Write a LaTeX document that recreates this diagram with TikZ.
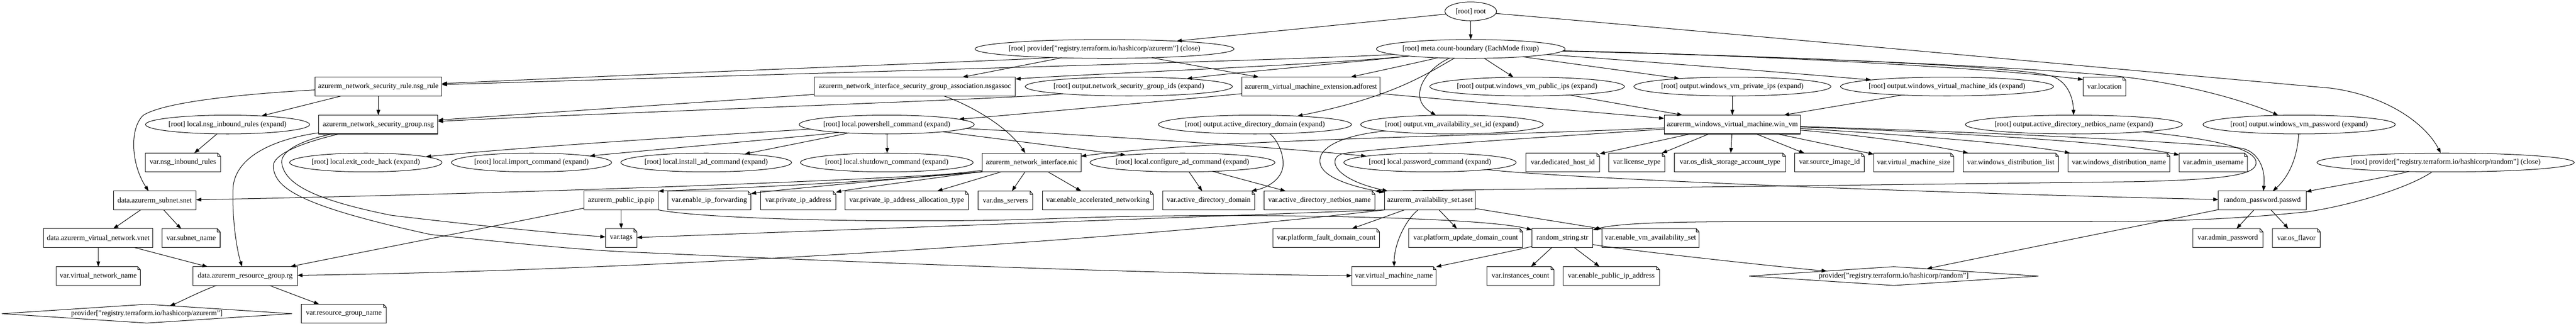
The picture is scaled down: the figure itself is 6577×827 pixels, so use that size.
\documentclass[tikz,border=0pt]{standalone}
\usepackage{fontspec}
\setmainfont{Liberation Serif}
\usetikzlibrary{shapes.geometric,arrows.meta,calc}
\newcommand\gedge[4]{\draw[edg] (#1) .. controls ($(#3)!0.1!(#4)$) and ($(#3)!0.9!(#4)$) .. (#2);}
\begin{document}
\begin{tikzpicture}[x=0.75pt,y=-0.75pt,
  font=\fontsize{14pt}{17pt}\selectfont,
  base/.style={inner sep=0pt,outer sep=0pt,minimum height=36pt,line width=1pt},
  wid/.style={minimum width=#1*0.75pt},
  gbox/.style={base,rectangle,draw},
  ell/.style={base,ellipse,draw,inner xsep=-8pt},
  notebox/.style={base,rectangle},
  dia/.style={base,diamond,draw,shape aspect=15},
  edg/.style={line width=1pt,-{Triangle[length=10pt,width=7pt]}}]
\useasboundingbox (0,0) rectangle (6577,827);
\fill[white] (0,0) rectangle (6577,827);

% row 0-1
\node[ell,wid=132] (root) at (3755,29) {[root] root};
\node[ell,wid=658] (pazc) at (2820,125) {[root] provider["registry.terraform.io/hashicorp/azurerm"] (close)};
\node[ell,wid=482] (meta) at (3755,125) {[root] meta.count-boundary (EachMode fixup)};
% row 2
\node[gbox,wid=324] (nsgrule) at (966,221) {azurerm\_network\_security\_rule.nsg\_rule};
\node[gbox,wid=513] (nsgassoc) at (2336,221) {azurerm\_network\_interface\_security\_group\_association.nsgassoc};
\node[ell,wid=529] (onsgids) at (2882,221) {[root] output.network\_security\_group\_ids (expand)};
\node[gbox,wid=353] (adforest) at (3347,221) {azurerm\_virtual\_machine\_extension.adforest};
\node[ell,wid=497] (opubips) at (3899,221) {[root] output.windows\_vm\_public\_ips (expand)};
\node[ell,wid=503] (oprivips) at (4423,221) {[root] output.windows\_vm\_private\_ips (expand)};
\node[ell,wid=544] (ovmids) at (4971,221) {[root] output.windows\_virtual\_machine\_ids (expand)};
\node[notebox,wid=109] (vlocation) at (5373,221) {var.location};
% row 3
\node[ell,wid=419] (lnsg) at (581,318) {[root] local.nsg\_inbound\_rules (expand)};
\node[gbox,wid=304] (nsg) at (966,318) {azurerm\_network\_security\_group.nsg};
\node[ell,wid=447] (lps) at (2264,318) {[root] local.powershell\_command (expand)};
\node[ell,wid=493] (oaddomain) at (3204,318) {[root] output.active\_directory\_domain (expand)};
\node[ell,wid=466] (oaset) at (3707,318) {[root] output.vm\_availability\_set\_id (expand)};
\node[gbox,wid=348] (winvm) at (4423,318) {azurerm\_windows\_virtual\_machine.win\_vm};
\node[ell,wid=554] (onetbios) at (5295,318) {[root] output.active\_directory\_netbios\_name (expand)};
\node[ell,wid=491] (opwd) at (5870,318) {[root] output.windows\_vm\_password (expand)};
% row 4
\node[notebox,wid=192] (vnsg) at (467,415) {var.nsg\_inbound\_rules};
\node[ell,wid=389] (lexit) at (934,415) {[root] local.exit\_code\_hack (expand)};
\node[ell,wid=409] (limport) at (1357,415) {[root] local.import\_command (expand)};
\node[ell,wid=436] (linstall) at (1803,415) {[root] local.install\_ad\_command (expand)};
\node[ell,wid=441] (lshutdown) at (2264,415) {[root] local.shutdown\_command (expand)};
\node[gbox,wid=252] (nic) at (2634,415) {azurerm\_network\_interface.nic};
\node[ell,wid=472] (lconfig) at (3019,415) {[root] local.configure\_ad\_command (expand)};
\node[ell,wid=440] (lpwd) at (3651,415) {[root] local.password\_command (expand)};
\node[notebox,wid=188] (vdedicated) at (3990,415) {var.dedicated\_host\_id};
\node[notebox,wid=143] (vlicense) at (4179,415) {var.license\_type};
\node[notebox,wid=284] (vosdisk) at (4417,415) {var.os\_disk\_storage\_account\_type};
\node[notebox,wid=178] (vsrcimg) at (4671,415) {var.source\_image\_id};
\node[notebox,wid=204] (vvmsize) at (4886,415) {var.virtual\_machine\_size};
\node[notebox,wid=243] (vdistlist) at (5134,415) {var.windows\_distribution\_list};
\node[notebox,wid=260] (vdistname) at (5410,415) {var.windows\_distribution\_name};
\node[notebox,wid=174] (vadminuser) at (5651,415) {var.admin\_username};
\node[ell,wid=657] (prc) at (6244,415) {[root] provider["registry.terraform.io/hashicorp/random"] (close)};
% row 5
\node[gbox,wid=211] (snet) at (395,512) {data.azurerm\_subnet.snet};
\node[gbox,wid=190] (pip) at (1586,512) {azurerm\_public\_ip.pip};
\node[notebox,wid=212] (vipfwd) at (1811,512) {var.enable\_ip\_forwarding};
\node[notebox,wid=192] (vprivip) at (2038,512) {var.private\_ip\_address};
\node[notebox,wid=315] (vprivalloc) at (2315,512) {var.private\_ip\_address\_allocation\_type};
\node[notebox,wid=140] (vdns) at (2567,512) {var.dns\_servers};
\node[notebox,wid=283] (vaccel) at (2803,512) {var.enable\_accelerated\_networking};
\node[notebox,wid=235] (vaddomain) at (3086,512) {var.active\_directory\_domain};
\node[notebox,wid=283] (vnetbios) at (3369,512) {var.active\_directory\_netbios\_name};
\node[gbox,wid=232] (aset) at (3651,512) {azurerm\_availability\_set.aset};
\node[gbox,wid=224] (passwd) at (5776,512) {random\_password.passwd};
% row 6
\node[gbox,wid=279] (vnet) at (251,608) {data.azurerm\_virtual\_network.vnet};
\node[notebox,wid=148] (vsubnet) at (488,608) {var.subnet\_name};
\node[notebox,wid=80] (vtags) at (1586,608) {var.tags};
\node[notebox,wid=272] (vfault) at (3386,608) {var.platform\_fault\_domain\_count};
\node[notebox,wid=291] (vupdate) at (3742,608) {var.platform\_update\_domain\_count};
\node[gbox,wid=155] (str) at (3989,608) {random\_string.str};
\node[notebox,wid=248] (vavail) at (4214,608) {var.enable\_vm\_availability\_set};
\node[notebox,wid=179] (vadminpwd) at (5688,608) {var.admin\_password};
\node[notebox,wid=122] (vosflavor) at (5863,608) {var.os\_flavor};
% row 7
\node[notebox,wid=215] (vvnetname) at (251,705) {var.virtual\_network\_name};
\node[gbox,wid=266] (rg) at (626,705) {data.azurerm\_resource\_group.rg};
\node[notebox,wid=215] (vvmname) at (3559,705) {var.virtual\_machine\_name};
\node[notebox,wid=171] (vinst) at (3882,705) {var.instances\_count};
\node[notebox,wid=246] (vpubip) at (4114,705) {var.enable\_public\_ip\_address};
\node[dia,wid=739] (prand) at (4835,705) {provider["registry.terraform.io/hashicorp/random"]};
% row 8
\node[dia,wid=741] (paz) at (375,801) {provider["registry.terraform.io/hashicorp/azurerm"]};
\node[notebox,wid=217] (vrgname) at (878,801) {var.resource\_group\_name};

% note outlines
\foreach \nn in {vlocation,vnsg,vdedicated,vlicense,vosdisk,vsrcimg,vvmsize,vdistlist,vdistname,vadminuser,vipfwd,vprivip,vprivalloc,vdns,vaccel,vaddomain,vnetbios,vsubnet,vtags,vfault,vupdate,vavail,vadminpwd,vosflavor,vvnetname,vvmname,vinst,vpubip,vrgname}{
  \draw[line width=1pt] (\nn.north west) -- ($(\nn.north east)+(-7,0)$) -- ($(\nn.north east)+(0,8)$) -- (\nn.south east) -- (\nn.south west) -- cycle;
  \draw[line width=1pt] ($(\nn.north east)+(-7,0)$) -- ($(\nn.north east)+(-7,8)$) -- ($(\nn.north east)+(0,8)$);
}

% ---- edges ----
% root
\gedge{root}{meta}{3755,53}{3755,101}
\gedge{root}{pazc}{3689,37}{3007,104}
\draw[edg] (root) .. controls (4300,75) and (5500,185) .. (5950,225) .. controls (6100,245) and (6195,320) .. (prc);
% provider azurerm close
\draw[edg] (pazc) .. controls (2650,152) and (1800,182) .. (nsgrule);
\gedge{pazc}{nsgassoc}{2710,148}{2462,196}
\gedge{pazc}{adforest}{2943,148}{3214,197}
% meta
\draw[edg] (meta) .. controls (3400,150) and (2200,183) .. (nsgrule);
\draw[edg] (meta) .. controls (3400,165) and (2750,190) .. (nsgassoc);
\draw[edg] (meta) .. controls (3450,160) and (3150,185) .. (onsgids);
\gedge{meta}{adforest}{3665,150}{3451,196}
\gedge{meta}{opubips}{3791,150}{3864,197}
\gedge{meta}{oprivips}{3891,146}{4287,200}
\draw[edg] (meta) .. controls (4100,150) and (4500,180) .. (ovmids);
\draw[edg] (meta) .. controls (4400,138) and (5050,170) .. ($(vlocation.north west)+(0,6)$);
\draw[edg] (meta) .. controls (4400,140) and (5150,165) .. (5240,195) .. controls (5280,210) and (5293,250) .. (onetbios);
\draw[edg] (meta) .. controls (4400,140) and (5100,165) .. (5400,194) .. controls (5600,215) and (5750,265) .. (opwd);
\draw[edg] (meta) .. controls (3640,190) and (3555,248) .. (oaddomain);
\draw[edg] (meta) .. controls (3640,175) and (3590,250) .. (oaset);
% nsg rule
\gedge{nsgrule}{lnsg}{872,245}{676,294}
\gedge{nsgrule}{nsg}{966,245}{966,294}
\draw[edg] (nsgrule) .. controls (650,238) and (420,258) .. (365,295) .. controls (330,330) and (335,420) .. (snet);
% nsg
\draw[edg] (nsg) .. controls (700,355) and (600,400) .. (595,480) .. controls (592,560) and (605,640) .. (rg);
\draw[edg] (nsg) .. controls (760,360) and (712,390) .. (720,420) .. controls (730,470) and (800,510) .. (1000,550) .. controls (1250,580) and (1450,598) .. (vtags);
\draw[edg] (nsg) .. controls (770,365) and (690,395) .. (698,430) .. controls (706,480) and (760,525) .. (1100,599) .. controls (1350,625) and (1500,640) .. (1640,645) .. controls (2300,675) and (3000,700) .. (vvmname);
% nsgassoc
\gedge{nsgassoc}{nsg}{2080,242}{1118,306}
\draw[edg] (nsgassoc) .. controls (2470,265) and (2570,320) .. (nic);
% outputs
\draw[edg] (onsgids) .. controls (2600,252) and (1500,290) .. (nsg);
\draw[edg] (oaddomain) .. controls (3255,350) and (3277,385) .. (3276,420) .. controls (3275,455) and (3240,478) .. (vaddomain);
\draw[edg] (oaset) .. controls (3430,345) and (3365,375) .. (3370,415) .. controls (3375,455) and (3460,478) .. (aset);
\gedge{opubips}{winvm}{4012,244}{4287,292}
\gedge{oprivips}{winvm}{4423,245}{4423,294}
\gedge{ovmids}{winvm}{4852,244}{4563,292}
\draw[edg] (onetbios) .. controls (5600,350) and (5750,370) .. (5760,412) .. controls (5765,445) and (5700,458) .. (5450,464) .. controls (4800,472) and (3800,484) .. (vnetbios.north east);
\draw[edg] (opwd) .. controls (5866,400) and (5845,450) .. (passwd);
% adforest
\gedge{adforest}{lps}{3171,240}{2456,305}
\gedge{adforest}{winvm}{3524,240}{4249,302}
% powershell
\draw[edg] (lps) .. controls (1900,340) and (1400,370) .. (lexit);
\gedge{lps}{limport}{2166,339}{1505,397}
\gedge{lps}{linstall}{2163,341}{1906,392}
\gedge{lps}{lshutdown}{2265,342}{2265,391}
\gedge{lps}{lconfig}{2410,337}{2868,395}
\draw[edg] (lps) .. controls (2600,335) and (3200,370) .. (lpwd);
% other locals
\draw[edg] (lpwd) .. controls (3950,452) and (4800,490) .. (passwd);
\gedge{lconfig}{vaddomain}{3036,439}{3068,486}
\gedge{lconfig}{vnetbios}{3100,439}{3276,486}
\gedge{lnsg}{vnsg}{552,344}{496,391}
% win vm
\draw[edg] (winvm) .. controls (3950,350) and (3550,375) .. (3430,392) .. controls (3390,400) and (3395,455) .. (aset);
\draw[edg] (winvm) .. controls (3800,348) and (3100,355) .. (nic);
\gedge{winvm}{vdedicated}{4316,342}{4087,392}
\gedge{winvm}{vlicense}{4363,342}{4244,391}
\gedge{winvm}{vosdisk}{4422,342}{4419,391}
\gedge{winvm}{vsrcimg}{4484,342}{4606,391}
\gedge{winvm}{vvmsize}{4538,342}{4775,392}
\draw[edg] (winvm) .. controls (4750,345) and (4930,370) .. (vdistlist);
\draw[edg] (winvm) .. controls (4800,340) and (5150,365) .. (vdistname);
\draw[edg] (winvm) .. controls (4900,335) and (5400,360) .. (vadminuser);
\draw[edg] (winvm) .. controls (5000,335) and (5550,360) .. (5720,378) .. controls (5765,385) and (5785,430) .. (passwd);
% nic
\draw[edg] (nic.south west) .. controls (2200,462) and (1300,495) .. (snet);
\draw[edg] (nic.south west) .. controls (2200,467) and (1850,482) .. (pip.north east);
\gedge{nic}{vipfwd}{2508,439}{1917,490}
\gedge{nic}{vprivip}{2508,439}{2133,488}
\gedge{nic}{vprivalloc}{2556,439}{2399,486}
\gedge{nic}{vdns}{2617,439}{2585,486}
\gedge{nic}{vaccel}{2676,439}{2757,486}
% pip
\gedge{pip}{vtags}{1586,536}{1586,583}
\gedge{pip}{rg}{1491,532}{747,679}
\draw[edg] (pip.south east) .. controls (1800,560) and (2300,572) .. (2700,558) .. controls (3100,542) and (3780,552) .. (str);
% aset
\gedge{aset}{vfault}{3586,536}{3454,583}
\gedge{aset}{vupdate}{3674,536}{3719,583}
\draw[edg] (aset) .. controls (3590,560) and (3560,620) .. (vvmname);
\gedge{aset}{vavail}{3767,533}{4090,584}
\draw[edg] (aset.south west) -- (vtags);
\draw[edg] (aset.south west) .. controls (2900,610) and (1700,690) .. (rg);
% random string
\gedge{str}{prand}{4066,630}{4638,692}
\gedge{str}{vinst}{3962,632}{3909,681}
\gedge{str}{vpubip}{4019,632}{4084,681}
\gedge{str}{vvmname}{3911,631}{3667,681}
% random password
\gedge{passwd}{vadminpwd}{5755,536}{5711,583}
\gedge{passwd}{vosflavor}{5798,536}{5842,583}
\gedge{passwd}{prand}{5664,536}{4924,684}
% provider random close
\draw[edg] (prc) .. controls (6060,460) and (5960,475) .. (passwd);
\draw[edg] (prc) .. controls (6150,480) and (6000,525) .. (5890,541) .. controls (5700,560) and (5550,566) .. (5300,566) -- (4500,566) .. controls (4250,566) and (4130,570) .. (str);
% data sources
\gedge{snet}{vnet}{359,536}{291,583}
\gedge{snet}{vsubnet}{418,536}{461,583}
\gedge{vnet}{vvnetname}{251,632}{251,681}
\gedge{vnet}{rg}{343,632}{529,681}
\gedge{rg}{vrgname}{688,729}{815,777}
\draw[edg] (rg) .. controls (520,740) and (450,775) .. (paz);
\end{tikzpicture}
\end{document}
